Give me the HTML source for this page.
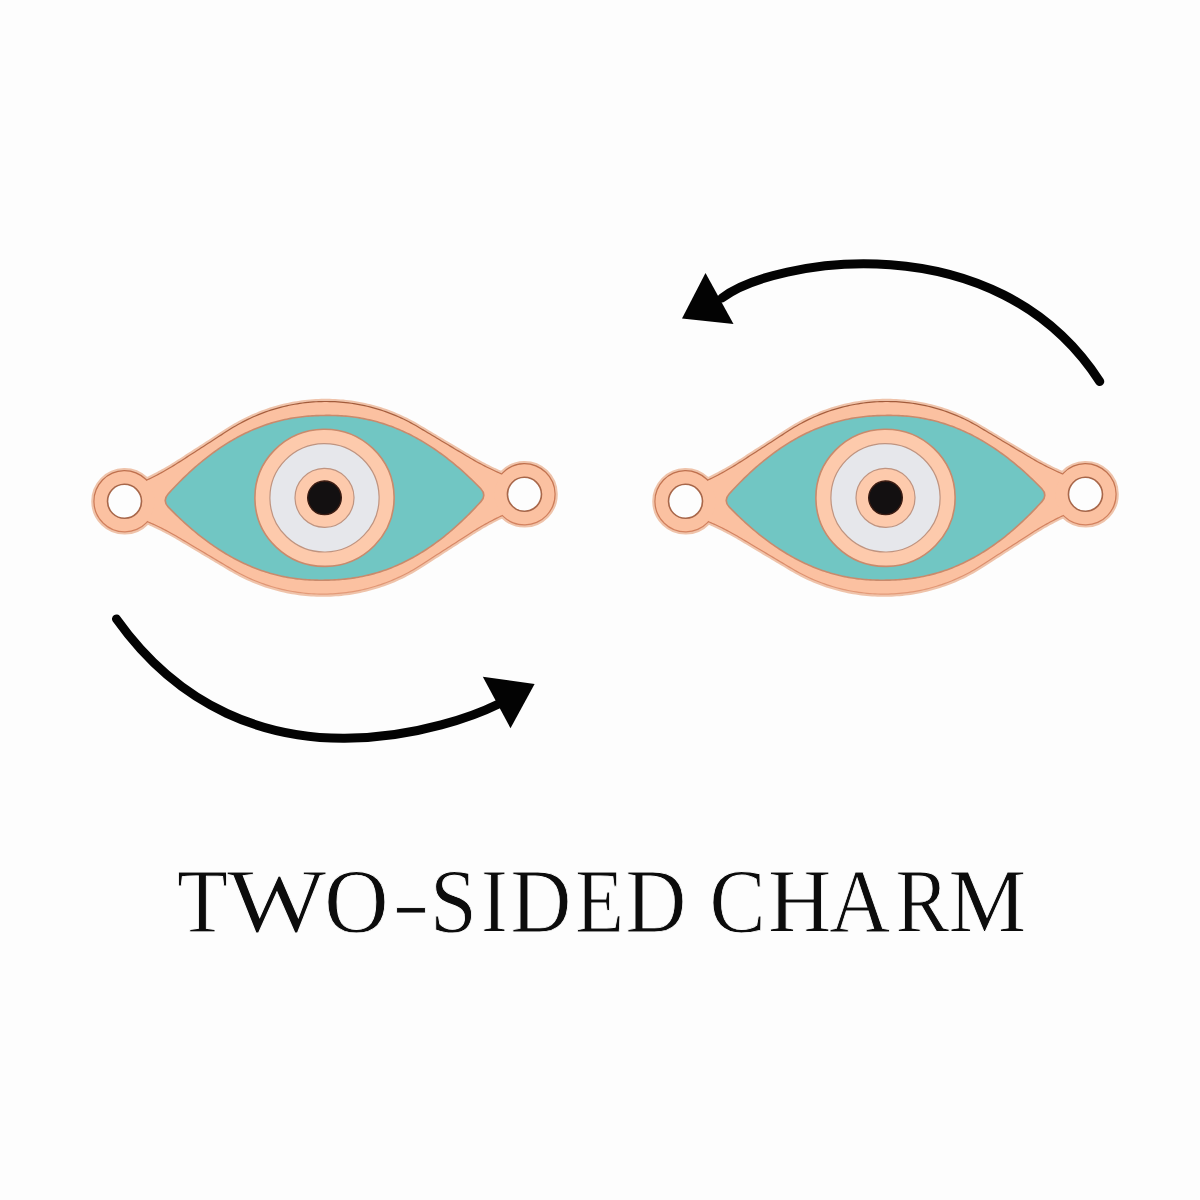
<!DOCTYPE html>
<html><head><meta charset="utf-8"><style>
html,body{margin:0;padding:0;background:#fdfdfd;}
body{width:1200px;height:1200px;overflow:hidden;position:relative;}
svg{position:absolute;left:0;top:0;}
</style></head><body>
<svg width="1200" height="1200" viewBox="0 0 1200 1200">
<defs><linearGradient id="eg" gradientUnits="userSpaceOnUse" x1="0" y1="-100" x2="0" y2="100">
<stop offset="0" stop-color="#a05a3a"/><stop offset="0.5" stop-color="#cc7a56"/><stop offset="0.75" stop-color="#d98866"/><stop offset="1" stop-color="#e49c7a"/></linearGradient></defs>
<rect width="1200" height="1200" fill="#fdfdfd"/>
<g transform="translate(324.5,497.8) rotate(-1.0)">
 <g stroke="#efc3aa" stroke-width="6.6" fill="#efc3aa">
  <path d="M-205.00,-8.98 L-204.98,-8.98 L-204.93,-9.01 L-204.84,-9.04 L-204.72,-9.09 L-204.56,-9.15 L-204.36,-9.23 L-204.13,-9.32 L-203.87,-9.43 L-203.57,-9.55 L-203.23,-9.68 L-202.86,-9.83 L-202.45,-10.00 L-202.01,-10.17 L-201.54,-10.36 L-201.03,-10.57 L-200.48,-10.78 L-199.90,-11.02 L-199.29,-11.26 L-198.64,-11.52 L-197.96,-11.79 L-197.24,-12.08 L-196.49,-12.38 L-195.70,-12.70 L-194.88,-13.02 L-194.03,-13.37 L-193.14,-13.72 L-192.22,-14.09 L-191.27,-14.47 L-190.29,-14.86 L-189.27,-15.27 L-188.21,-15.69 L-187.13,-16.12 L-186.01,-16.57 L-184.87,-17.03 L-183.68,-17.51 L-182.47,-18.01 L-181.23,-18.52 L-179.95,-19.07 L-178.65,-19.63 L-177.31,-20.22 L-175.94,-20.83 L-174.54,-21.46 L-173.12,-22.12 L-171.66,-22.80 L-170.17,-23.51 L-168.65,-24.25 L-167.11,-25.02 L-165.53,-25.81 L-163.93,-26.63 L-162.30,-27.48 L-160.63,-28.36 L-158.95,-29.26 L-157.23,-30.21 L-155.49,-31.18 L-153.72,-32.18 L-151.92,-33.22 L-150.10,-34.29 L-148.25,-35.39 L-146.38,-36.53 L-144.48,-37.70 L-142.56,-38.89 L-140.61,-40.10 L-138.63,-41.32 L-136.64,-42.56 L-134.62,-43.81 L-132.57,-45.08 L-130.51,-46.36 L-128.42,-47.66 L-126.30,-48.97 L-124.17,-50.29 L-122.02,-51.63 L-119.84,-52.98 L-117.64,-54.34 L-115.43,-55.71 L-113.19,-57.10 L-110.93,-58.50 L-108.66,-59.91 L-106.36,-61.33 L-104.05,-62.76 L-101.72,-64.21 L-99.37,-65.67 L-97.01,-67.13 L-94.63,-68.61 L-92.23,-70.08 L-89.81,-71.51 L-87.38,-72.89 L-84.94,-74.24 L-82.48,-75.54 L-80.00,-76.80 L-77.52,-78.02 L-75.01,-79.20 L-72.50,-80.34 L-69.97,-81.44 L-67.43,-82.50 L-64.88,-83.51 L-62.32,-84.49 L-59.75,-85.42 L-57.17,-86.31 L-54.57,-87.17 L-51.97,-87.98 L-49.36,-88.75 L-46.74,-89.48 L-44.11,-90.17 L-41.48,-90.82 L-38.84,-91.43 L-36.19,-92.00 L-33.53,-92.53 L-30.87,-93.01 L-28.20,-93.46 L-25.53,-93.87 L-22.86,-94.23 L-20.18,-94.56 L-17.49,-94.84 L-14.81,-95.09 L-12.12,-95.29 L-9.43,-95.45 L-6.74,-95.57 L-4.04,-95.65 L-1.35,-95.69 L1.35,-95.69 L4.04,-95.65 L6.74,-95.57 L9.43,-95.45 L12.12,-95.29 L14.81,-95.09 L17.49,-94.84 L20.18,-94.56 L22.86,-94.23 L25.53,-93.87 L28.20,-93.46 L30.87,-93.01 L33.53,-92.53 L36.19,-92.00 L38.84,-91.43 L41.48,-90.82 L44.11,-90.17 L46.74,-89.48 L49.36,-88.75 L51.97,-87.98 L54.57,-87.17 L57.17,-86.31 L59.75,-85.42 L62.32,-84.49 L64.88,-83.51 L67.43,-82.50 L69.97,-81.44 L72.50,-80.34 L75.01,-79.20 L77.52,-78.02 L80.00,-76.80 L82.48,-75.54 L84.94,-74.24 L87.38,-72.89 L89.81,-71.51 L92.23,-70.08 L94.63,-68.61 L97.01,-67.13 L99.37,-65.67 L101.72,-64.21 L104.05,-62.76 L106.36,-61.33 L108.66,-59.91 L110.93,-58.50 L113.19,-57.10 L115.43,-55.71 L117.64,-54.34 L119.84,-52.98 L122.02,-51.63 L124.17,-50.29 L126.30,-48.97 L128.42,-47.66 L130.51,-46.36 L132.57,-45.08 L134.62,-43.81 L136.64,-42.56 L138.63,-41.32 L140.61,-40.10 L142.56,-38.89 L144.48,-37.70 L146.38,-36.53 L148.25,-35.39 L150.10,-34.29 L151.92,-33.22 L153.72,-32.18 L155.49,-31.18 L157.23,-30.21 L158.95,-29.26 L160.63,-28.36 L162.30,-27.48 L163.93,-26.63 L165.53,-25.81 L167.11,-25.02 L168.65,-24.25 L170.17,-23.51 L171.66,-22.80 L173.12,-22.12 L174.54,-21.46 L175.94,-20.83 L177.31,-20.22 L178.65,-19.63 L179.95,-19.07 L181.23,-18.52 L182.47,-18.01 L183.68,-17.51 L184.87,-17.03 L186.01,-16.57 L187.13,-16.12 L188.21,-15.69 L189.27,-15.27 L190.29,-14.86 L191.27,-14.47 L192.22,-14.09 L193.14,-13.72 L194.03,-13.37 L194.88,-13.02 L195.70,-12.70 L196.49,-12.38 L197.24,-12.08 L197.96,-11.79 L198.64,-11.52 L199.29,-11.26 L199.90,-11.02 L200.48,-10.78 L201.03,-10.57 L201.54,-10.36 L202.01,-10.17 L202.45,-10.00 L202.86,-9.83 L203.23,-9.68 L203.57,-9.55 L203.87,-9.43 L204.13,-9.32 L204.36,-9.23 L204.56,-9.15 L204.72,-9.09 L204.84,-9.04 L204.93,-9.01 L204.98,-8.98 L205.00,-8.98 L205.00,8.98 L204.98,8.98 L204.93,9.01 L204.84,9.04 L204.72,9.09 L204.56,9.15 L204.36,9.23 L204.13,9.32 L203.87,9.43 L203.57,9.55 L203.23,9.68 L202.86,9.83 L202.45,10.00 L202.01,10.17 L201.54,10.36 L201.03,10.57 L200.48,10.78 L199.90,11.02 L199.29,11.26 L198.64,11.52 L197.96,11.79 L197.24,12.08 L196.49,12.38 L195.70,12.70 L194.88,13.02 L194.03,13.37 L193.14,13.72 L192.22,14.09 L191.27,14.47 L190.29,14.86 L189.27,15.27 L188.21,15.69 L187.13,16.12 L186.01,16.57 L184.87,17.03 L183.68,17.51 L182.47,18.01 L181.23,18.52 L179.95,19.07 L178.65,19.63 L177.31,20.22 L175.94,20.83 L174.54,21.46 L173.12,22.12 L171.66,22.80 L170.17,23.51 L168.65,24.25 L167.11,25.02 L165.53,25.81 L163.93,26.63 L162.30,27.48 L160.63,28.36 L158.95,29.26 L157.23,30.21 L155.49,31.18 L153.72,32.18 L151.92,33.22 L150.10,34.29 L148.25,35.39 L146.38,36.53 L144.48,37.70 L142.56,38.89 L140.61,40.10 L138.63,41.32 L136.64,42.56 L134.62,43.81 L132.57,45.08 L130.51,46.36 L128.42,47.66 L126.30,48.97 L124.17,50.29 L122.02,51.63 L119.84,52.98 L117.64,54.34 L115.43,55.71 L113.19,57.10 L110.93,58.50 L108.66,59.91 L106.36,61.33 L104.05,62.76 L101.72,64.21 L99.37,65.67 L97.01,67.13 L94.63,68.61 L92.23,70.08 L89.81,71.51 L87.38,72.89 L84.94,74.24 L82.48,75.54 L80.00,76.80 L77.52,78.02 L75.01,79.20 L72.50,80.34 L69.97,81.44 L67.43,82.50 L64.88,83.51 L62.32,84.49 L59.75,85.42 L57.17,86.31 L54.57,87.17 L51.97,87.98 L49.36,88.75 L46.74,89.48 L44.11,90.17 L41.48,90.82 L38.84,91.43 L36.19,92.00 L33.53,92.53 L30.87,93.01 L28.20,93.46 L25.53,93.87 L22.86,94.23 L20.18,94.56 L17.49,94.84 L14.81,95.09 L12.12,95.29 L9.43,95.45 L6.74,95.57 L4.04,95.65 L1.35,95.69 L-1.35,95.69 L-4.04,95.65 L-6.74,95.57 L-9.43,95.45 L-12.12,95.29 L-14.81,95.09 L-17.49,94.84 L-20.18,94.56 L-22.86,94.23 L-25.53,93.87 L-28.20,93.46 L-30.87,93.01 L-33.53,92.53 L-36.19,92.00 L-38.84,91.43 L-41.48,90.82 L-44.11,90.17 L-46.74,89.48 L-49.36,88.75 L-51.97,87.98 L-54.57,87.17 L-57.17,86.31 L-59.75,85.42 L-62.32,84.49 L-64.88,83.51 L-67.43,82.50 L-69.97,81.44 L-72.50,80.34 L-75.01,79.20 L-77.52,78.02 L-80.00,76.80 L-82.48,75.54 L-84.94,74.24 L-87.38,72.89 L-89.81,71.51 L-92.23,70.08 L-94.63,68.61 L-97.01,67.13 L-99.37,65.67 L-101.72,64.21 L-104.05,62.76 L-106.36,61.33 L-108.66,59.91 L-110.93,58.50 L-113.19,57.10 L-115.43,55.71 L-117.64,54.34 L-119.84,52.98 L-122.02,51.63 L-124.17,50.29 L-126.30,48.97 L-128.42,47.66 L-130.51,46.36 L-132.57,45.08 L-134.62,43.81 L-136.64,42.56 L-138.63,41.32 L-140.61,40.10 L-142.56,38.89 L-144.48,37.70 L-146.38,36.53 L-148.25,35.39 L-150.10,34.29 L-151.92,33.22 L-153.72,32.18 L-155.49,31.18 L-157.23,30.21 L-158.95,29.26 L-160.63,28.36 L-162.30,27.48 L-163.93,26.63 L-165.53,25.81 L-167.11,25.02 L-168.65,24.25 L-170.17,23.51 L-171.66,22.80 L-173.12,22.12 L-174.54,21.46 L-175.94,20.83 L-177.31,20.22 L-178.65,19.63 L-179.95,19.07 L-181.23,18.52 L-182.47,18.01 L-183.68,17.51 L-184.87,17.03 L-186.01,16.57 L-187.13,16.12 L-188.21,15.69 L-189.27,15.27 L-190.29,14.86 L-191.27,14.47 L-192.22,14.09 L-193.14,13.72 L-194.03,13.37 L-194.88,13.02 L-195.70,12.70 L-196.49,12.38 L-197.24,12.08 L-197.96,11.79 L-198.64,11.52 L-199.29,11.26 L-199.90,11.02 L-200.48,10.78 L-201.03,10.57 L-201.54,10.36 L-202.01,10.17 L-202.45,10.00 L-202.86,9.83 L-203.23,9.68 L-203.57,9.55 L-203.87,9.43 L-204.13,9.32 L-204.36,9.23 L-204.56,9.15 L-204.72,9.09 L-204.84,9.04 L-204.93,9.01 L-204.98,8.98 L-205.00,8.98 Z"/><circle cx="-200" cy="0" r="30"/><circle cx="200" cy="0" r="30"/>
 </g>
 <g stroke="url(#eg)" stroke-width="2.4" fill="url(#eg)">
  <path d="M-205.00,-8.98 L-204.98,-8.98 L-204.93,-9.01 L-204.84,-9.04 L-204.72,-9.09 L-204.56,-9.15 L-204.36,-9.23 L-204.13,-9.32 L-203.87,-9.43 L-203.57,-9.55 L-203.23,-9.68 L-202.86,-9.83 L-202.45,-10.00 L-202.01,-10.17 L-201.54,-10.36 L-201.03,-10.57 L-200.48,-10.78 L-199.90,-11.02 L-199.29,-11.26 L-198.64,-11.52 L-197.96,-11.79 L-197.24,-12.08 L-196.49,-12.38 L-195.70,-12.70 L-194.88,-13.02 L-194.03,-13.37 L-193.14,-13.72 L-192.22,-14.09 L-191.27,-14.47 L-190.29,-14.86 L-189.27,-15.27 L-188.21,-15.69 L-187.13,-16.12 L-186.01,-16.57 L-184.87,-17.03 L-183.68,-17.51 L-182.47,-18.01 L-181.23,-18.52 L-179.95,-19.07 L-178.65,-19.63 L-177.31,-20.22 L-175.94,-20.83 L-174.54,-21.46 L-173.12,-22.12 L-171.66,-22.80 L-170.17,-23.51 L-168.65,-24.25 L-167.11,-25.02 L-165.53,-25.81 L-163.93,-26.63 L-162.30,-27.48 L-160.63,-28.36 L-158.95,-29.26 L-157.23,-30.21 L-155.49,-31.18 L-153.72,-32.18 L-151.92,-33.22 L-150.10,-34.29 L-148.25,-35.39 L-146.38,-36.53 L-144.48,-37.70 L-142.56,-38.89 L-140.61,-40.10 L-138.63,-41.32 L-136.64,-42.56 L-134.62,-43.81 L-132.57,-45.08 L-130.51,-46.36 L-128.42,-47.66 L-126.30,-48.97 L-124.17,-50.29 L-122.02,-51.63 L-119.84,-52.98 L-117.64,-54.34 L-115.43,-55.71 L-113.19,-57.10 L-110.93,-58.50 L-108.66,-59.91 L-106.36,-61.33 L-104.05,-62.76 L-101.72,-64.21 L-99.37,-65.67 L-97.01,-67.13 L-94.63,-68.61 L-92.23,-70.08 L-89.81,-71.51 L-87.38,-72.89 L-84.94,-74.24 L-82.48,-75.54 L-80.00,-76.80 L-77.52,-78.02 L-75.01,-79.20 L-72.50,-80.34 L-69.97,-81.44 L-67.43,-82.50 L-64.88,-83.51 L-62.32,-84.49 L-59.75,-85.42 L-57.17,-86.31 L-54.57,-87.17 L-51.97,-87.98 L-49.36,-88.75 L-46.74,-89.48 L-44.11,-90.17 L-41.48,-90.82 L-38.84,-91.43 L-36.19,-92.00 L-33.53,-92.53 L-30.87,-93.01 L-28.20,-93.46 L-25.53,-93.87 L-22.86,-94.23 L-20.18,-94.56 L-17.49,-94.84 L-14.81,-95.09 L-12.12,-95.29 L-9.43,-95.45 L-6.74,-95.57 L-4.04,-95.65 L-1.35,-95.69 L1.35,-95.69 L4.04,-95.65 L6.74,-95.57 L9.43,-95.45 L12.12,-95.29 L14.81,-95.09 L17.49,-94.84 L20.18,-94.56 L22.86,-94.23 L25.53,-93.87 L28.20,-93.46 L30.87,-93.01 L33.53,-92.53 L36.19,-92.00 L38.84,-91.43 L41.48,-90.82 L44.11,-90.17 L46.74,-89.48 L49.36,-88.75 L51.97,-87.98 L54.57,-87.17 L57.17,-86.31 L59.75,-85.42 L62.32,-84.49 L64.88,-83.51 L67.43,-82.50 L69.97,-81.44 L72.50,-80.34 L75.01,-79.20 L77.52,-78.02 L80.00,-76.80 L82.48,-75.54 L84.94,-74.24 L87.38,-72.89 L89.81,-71.51 L92.23,-70.08 L94.63,-68.61 L97.01,-67.13 L99.37,-65.67 L101.72,-64.21 L104.05,-62.76 L106.36,-61.33 L108.66,-59.91 L110.93,-58.50 L113.19,-57.10 L115.43,-55.71 L117.64,-54.34 L119.84,-52.98 L122.02,-51.63 L124.17,-50.29 L126.30,-48.97 L128.42,-47.66 L130.51,-46.36 L132.57,-45.08 L134.62,-43.81 L136.64,-42.56 L138.63,-41.32 L140.61,-40.10 L142.56,-38.89 L144.48,-37.70 L146.38,-36.53 L148.25,-35.39 L150.10,-34.29 L151.92,-33.22 L153.72,-32.18 L155.49,-31.18 L157.23,-30.21 L158.95,-29.26 L160.63,-28.36 L162.30,-27.48 L163.93,-26.63 L165.53,-25.81 L167.11,-25.02 L168.65,-24.25 L170.17,-23.51 L171.66,-22.80 L173.12,-22.12 L174.54,-21.46 L175.94,-20.83 L177.31,-20.22 L178.65,-19.63 L179.95,-19.07 L181.23,-18.52 L182.47,-18.01 L183.68,-17.51 L184.87,-17.03 L186.01,-16.57 L187.13,-16.12 L188.21,-15.69 L189.27,-15.27 L190.29,-14.86 L191.27,-14.47 L192.22,-14.09 L193.14,-13.72 L194.03,-13.37 L194.88,-13.02 L195.70,-12.70 L196.49,-12.38 L197.24,-12.08 L197.96,-11.79 L198.64,-11.52 L199.29,-11.26 L199.90,-11.02 L200.48,-10.78 L201.03,-10.57 L201.54,-10.36 L202.01,-10.17 L202.45,-10.00 L202.86,-9.83 L203.23,-9.68 L203.57,-9.55 L203.87,-9.43 L204.13,-9.32 L204.36,-9.23 L204.56,-9.15 L204.72,-9.09 L204.84,-9.04 L204.93,-9.01 L204.98,-8.98 L205.00,-8.98 L205.00,8.98 L204.98,8.98 L204.93,9.01 L204.84,9.04 L204.72,9.09 L204.56,9.15 L204.36,9.23 L204.13,9.32 L203.87,9.43 L203.57,9.55 L203.23,9.68 L202.86,9.83 L202.45,10.00 L202.01,10.17 L201.54,10.36 L201.03,10.57 L200.48,10.78 L199.90,11.02 L199.29,11.26 L198.64,11.52 L197.96,11.79 L197.24,12.08 L196.49,12.38 L195.70,12.70 L194.88,13.02 L194.03,13.37 L193.14,13.72 L192.22,14.09 L191.27,14.47 L190.29,14.86 L189.27,15.27 L188.21,15.69 L187.13,16.12 L186.01,16.57 L184.87,17.03 L183.68,17.51 L182.47,18.01 L181.23,18.52 L179.95,19.07 L178.65,19.63 L177.31,20.22 L175.94,20.83 L174.54,21.46 L173.12,22.12 L171.66,22.80 L170.17,23.51 L168.65,24.25 L167.11,25.02 L165.53,25.81 L163.93,26.63 L162.30,27.48 L160.63,28.36 L158.95,29.26 L157.23,30.21 L155.49,31.18 L153.72,32.18 L151.92,33.22 L150.10,34.29 L148.25,35.39 L146.38,36.53 L144.48,37.70 L142.56,38.89 L140.61,40.10 L138.63,41.32 L136.64,42.56 L134.62,43.81 L132.57,45.08 L130.51,46.36 L128.42,47.66 L126.30,48.97 L124.17,50.29 L122.02,51.63 L119.84,52.98 L117.64,54.34 L115.43,55.71 L113.19,57.10 L110.93,58.50 L108.66,59.91 L106.36,61.33 L104.05,62.76 L101.72,64.21 L99.37,65.67 L97.01,67.13 L94.63,68.61 L92.23,70.08 L89.81,71.51 L87.38,72.89 L84.94,74.24 L82.48,75.54 L80.00,76.80 L77.52,78.02 L75.01,79.20 L72.50,80.34 L69.97,81.44 L67.43,82.50 L64.88,83.51 L62.32,84.49 L59.75,85.42 L57.17,86.31 L54.57,87.17 L51.97,87.98 L49.36,88.75 L46.74,89.48 L44.11,90.17 L41.48,90.82 L38.84,91.43 L36.19,92.00 L33.53,92.53 L30.87,93.01 L28.20,93.46 L25.53,93.87 L22.86,94.23 L20.18,94.56 L17.49,94.84 L14.81,95.09 L12.12,95.29 L9.43,95.45 L6.74,95.57 L4.04,95.65 L1.35,95.69 L-1.35,95.69 L-4.04,95.65 L-6.74,95.57 L-9.43,95.45 L-12.12,95.29 L-14.81,95.09 L-17.49,94.84 L-20.18,94.56 L-22.86,94.23 L-25.53,93.87 L-28.20,93.46 L-30.87,93.01 L-33.53,92.53 L-36.19,92.00 L-38.84,91.43 L-41.48,90.82 L-44.11,90.17 L-46.74,89.48 L-49.36,88.75 L-51.97,87.98 L-54.57,87.17 L-57.17,86.31 L-59.75,85.42 L-62.32,84.49 L-64.88,83.51 L-67.43,82.50 L-69.97,81.44 L-72.50,80.34 L-75.01,79.20 L-77.52,78.02 L-80.00,76.80 L-82.48,75.54 L-84.94,74.24 L-87.38,72.89 L-89.81,71.51 L-92.23,70.08 L-94.63,68.61 L-97.01,67.13 L-99.37,65.67 L-101.72,64.21 L-104.05,62.76 L-106.36,61.33 L-108.66,59.91 L-110.93,58.50 L-113.19,57.10 L-115.43,55.71 L-117.64,54.34 L-119.84,52.98 L-122.02,51.63 L-124.17,50.29 L-126.30,48.97 L-128.42,47.66 L-130.51,46.36 L-132.57,45.08 L-134.62,43.81 L-136.64,42.56 L-138.63,41.32 L-140.61,40.10 L-142.56,38.89 L-144.48,37.70 L-146.38,36.53 L-148.25,35.39 L-150.10,34.29 L-151.92,33.22 L-153.72,32.18 L-155.49,31.18 L-157.23,30.21 L-158.95,29.26 L-160.63,28.36 L-162.30,27.48 L-163.93,26.63 L-165.53,25.81 L-167.11,25.02 L-168.65,24.25 L-170.17,23.51 L-171.66,22.80 L-173.12,22.12 L-174.54,21.46 L-175.94,20.83 L-177.31,20.22 L-178.65,19.63 L-179.95,19.07 L-181.23,18.52 L-182.47,18.01 L-183.68,17.51 L-184.87,17.03 L-186.01,16.57 L-187.13,16.12 L-188.21,15.69 L-189.27,15.27 L-190.29,14.86 L-191.27,14.47 L-192.22,14.09 L-193.14,13.72 L-194.03,13.37 L-194.88,13.02 L-195.70,12.70 L-196.49,12.38 L-197.24,12.08 L-197.96,11.79 L-198.64,11.52 L-199.29,11.26 L-199.90,11.02 L-200.48,10.78 L-201.03,10.57 L-201.54,10.36 L-202.01,10.17 L-202.45,10.00 L-202.86,9.83 L-203.23,9.68 L-203.57,9.55 L-203.87,9.43 L-204.13,9.32 L-204.36,9.23 L-204.56,9.15 L-204.72,9.09 L-204.84,9.04 L-204.93,9.01 L-204.98,8.98 L-205.00,8.98 Z"/><circle cx="-200" cy="0" r="30"/><circle cx="200" cy="0" r="30"/>
 </g>
 <g fill="#fbc1a1">
  <path d="M-205.00,-8.98 L-204.98,-8.98 L-204.93,-9.01 L-204.84,-9.04 L-204.72,-9.09 L-204.56,-9.15 L-204.36,-9.23 L-204.13,-9.32 L-203.87,-9.43 L-203.57,-9.55 L-203.23,-9.68 L-202.86,-9.83 L-202.45,-10.00 L-202.01,-10.17 L-201.54,-10.36 L-201.03,-10.57 L-200.48,-10.78 L-199.90,-11.02 L-199.29,-11.26 L-198.64,-11.52 L-197.96,-11.79 L-197.24,-12.08 L-196.49,-12.38 L-195.70,-12.70 L-194.88,-13.02 L-194.03,-13.37 L-193.14,-13.72 L-192.22,-14.09 L-191.27,-14.47 L-190.29,-14.86 L-189.27,-15.27 L-188.21,-15.69 L-187.13,-16.12 L-186.01,-16.57 L-184.87,-17.03 L-183.68,-17.51 L-182.47,-18.01 L-181.23,-18.52 L-179.95,-19.07 L-178.65,-19.63 L-177.31,-20.22 L-175.94,-20.83 L-174.54,-21.46 L-173.12,-22.12 L-171.66,-22.80 L-170.17,-23.51 L-168.65,-24.25 L-167.11,-25.02 L-165.53,-25.81 L-163.93,-26.63 L-162.30,-27.48 L-160.63,-28.36 L-158.95,-29.26 L-157.23,-30.21 L-155.49,-31.18 L-153.72,-32.18 L-151.92,-33.22 L-150.10,-34.29 L-148.25,-35.39 L-146.38,-36.53 L-144.48,-37.70 L-142.56,-38.89 L-140.61,-40.10 L-138.63,-41.32 L-136.64,-42.56 L-134.62,-43.81 L-132.57,-45.08 L-130.51,-46.36 L-128.42,-47.66 L-126.30,-48.97 L-124.17,-50.29 L-122.02,-51.63 L-119.84,-52.98 L-117.64,-54.34 L-115.43,-55.71 L-113.19,-57.10 L-110.93,-58.50 L-108.66,-59.91 L-106.36,-61.33 L-104.05,-62.76 L-101.72,-64.21 L-99.37,-65.67 L-97.01,-67.13 L-94.63,-68.61 L-92.23,-70.08 L-89.81,-71.51 L-87.38,-72.89 L-84.94,-74.24 L-82.48,-75.54 L-80.00,-76.80 L-77.52,-78.02 L-75.01,-79.20 L-72.50,-80.34 L-69.97,-81.44 L-67.43,-82.50 L-64.88,-83.51 L-62.32,-84.49 L-59.75,-85.42 L-57.17,-86.31 L-54.57,-87.17 L-51.97,-87.98 L-49.36,-88.75 L-46.74,-89.48 L-44.11,-90.17 L-41.48,-90.82 L-38.84,-91.43 L-36.19,-92.00 L-33.53,-92.53 L-30.87,-93.01 L-28.20,-93.46 L-25.53,-93.87 L-22.86,-94.23 L-20.18,-94.56 L-17.49,-94.84 L-14.81,-95.09 L-12.12,-95.29 L-9.43,-95.45 L-6.74,-95.57 L-4.04,-95.65 L-1.35,-95.69 L1.35,-95.69 L4.04,-95.65 L6.74,-95.57 L9.43,-95.45 L12.12,-95.29 L14.81,-95.09 L17.49,-94.84 L20.18,-94.56 L22.86,-94.23 L25.53,-93.87 L28.20,-93.46 L30.87,-93.01 L33.53,-92.53 L36.19,-92.00 L38.84,-91.43 L41.48,-90.82 L44.11,-90.17 L46.74,-89.48 L49.36,-88.75 L51.97,-87.98 L54.57,-87.17 L57.17,-86.31 L59.75,-85.42 L62.32,-84.49 L64.88,-83.51 L67.43,-82.50 L69.97,-81.44 L72.50,-80.34 L75.01,-79.20 L77.52,-78.02 L80.00,-76.80 L82.48,-75.54 L84.94,-74.24 L87.38,-72.89 L89.81,-71.51 L92.23,-70.08 L94.63,-68.61 L97.01,-67.13 L99.37,-65.67 L101.72,-64.21 L104.05,-62.76 L106.36,-61.33 L108.66,-59.91 L110.93,-58.50 L113.19,-57.10 L115.43,-55.71 L117.64,-54.34 L119.84,-52.98 L122.02,-51.63 L124.17,-50.29 L126.30,-48.97 L128.42,-47.66 L130.51,-46.36 L132.57,-45.08 L134.62,-43.81 L136.64,-42.56 L138.63,-41.32 L140.61,-40.10 L142.56,-38.89 L144.48,-37.70 L146.38,-36.53 L148.25,-35.39 L150.10,-34.29 L151.92,-33.22 L153.72,-32.18 L155.49,-31.18 L157.23,-30.21 L158.95,-29.26 L160.63,-28.36 L162.30,-27.48 L163.93,-26.63 L165.53,-25.81 L167.11,-25.02 L168.65,-24.25 L170.17,-23.51 L171.66,-22.80 L173.12,-22.12 L174.54,-21.46 L175.94,-20.83 L177.31,-20.22 L178.65,-19.63 L179.95,-19.07 L181.23,-18.52 L182.47,-18.01 L183.68,-17.51 L184.87,-17.03 L186.01,-16.57 L187.13,-16.12 L188.21,-15.69 L189.27,-15.27 L190.29,-14.86 L191.27,-14.47 L192.22,-14.09 L193.14,-13.72 L194.03,-13.37 L194.88,-13.02 L195.70,-12.70 L196.49,-12.38 L197.24,-12.08 L197.96,-11.79 L198.64,-11.52 L199.29,-11.26 L199.90,-11.02 L200.48,-10.78 L201.03,-10.57 L201.54,-10.36 L202.01,-10.17 L202.45,-10.00 L202.86,-9.83 L203.23,-9.68 L203.57,-9.55 L203.87,-9.43 L204.13,-9.32 L204.36,-9.23 L204.56,-9.15 L204.72,-9.09 L204.84,-9.04 L204.93,-9.01 L204.98,-8.98 L205.00,-8.98 L205.00,8.98 L204.98,8.98 L204.93,9.01 L204.84,9.04 L204.72,9.09 L204.56,9.15 L204.36,9.23 L204.13,9.32 L203.87,9.43 L203.57,9.55 L203.23,9.68 L202.86,9.83 L202.45,10.00 L202.01,10.17 L201.54,10.36 L201.03,10.57 L200.48,10.78 L199.90,11.02 L199.29,11.26 L198.64,11.52 L197.96,11.79 L197.24,12.08 L196.49,12.38 L195.70,12.70 L194.88,13.02 L194.03,13.37 L193.14,13.72 L192.22,14.09 L191.27,14.47 L190.29,14.86 L189.27,15.27 L188.21,15.69 L187.13,16.12 L186.01,16.57 L184.87,17.03 L183.68,17.51 L182.47,18.01 L181.23,18.52 L179.95,19.07 L178.65,19.63 L177.31,20.22 L175.94,20.83 L174.54,21.46 L173.12,22.12 L171.66,22.80 L170.17,23.51 L168.65,24.25 L167.11,25.02 L165.53,25.81 L163.93,26.63 L162.30,27.48 L160.63,28.36 L158.95,29.26 L157.23,30.21 L155.49,31.18 L153.72,32.18 L151.92,33.22 L150.10,34.29 L148.25,35.39 L146.38,36.53 L144.48,37.70 L142.56,38.89 L140.61,40.10 L138.63,41.32 L136.64,42.56 L134.62,43.81 L132.57,45.08 L130.51,46.36 L128.42,47.66 L126.30,48.97 L124.17,50.29 L122.02,51.63 L119.84,52.98 L117.64,54.34 L115.43,55.71 L113.19,57.10 L110.93,58.50 L108.66,59.91 L106.36,61.33 L104.05,62.76 L101.72,64.21 L99.37,65.67 L97.01,67.13 L94.63,68.61 L92.23,70.08 L89.81,71.51 L87.38,72.89 L84.94,74.24 L82.48,75.54 L80.00,76.80 L77.52,78.02 L75.01,79.20 L72.50,80.34 L69.97,81.44 L67.43,82.50 L64.88,83.51 L62.32,84.49 L59.75,85.42 L57.17,86.31 L54.57,87.17 L51.97,87.98 L49.36,88.75 L46.74,89.48 L44.11,90.17 L41.48,90.82 L38.84,91.43 L36.19,92.00 L33.53,92.53 L30.87,93.01 L28.20,93.46 L25.53,93.87 L22.86,94.23 L20.18,94.56 L17.49,94.84 L14.81,95.09 L12.12,95.29 L9.43,95.45 L6.74,95.57 L4.04,95.65 L1.35,95.69 L-1.35,95.69 L-4.04,95.65 L-6.74,95.57 L-9.43,95.45 L-12.12,95.29 L-14.81,95.09 L-17.49,94.84 L-20.18,94.56 L-22.86,94.23 L-25.53,93.87 L-28.20,93.46 L-30.87,93.01 L-33.53,92.53 L-36.19,92.00 L-38.84,91.43 L-41.48,90.82 L-44.11,90.17 L-46.74,89.48 L-49.36,88.75 L-51.97,87.98 L-54.57,87.17 L-57.17,86.31 L-59.75,85.42 L-62.32,84.49 L-64.88,83.51 L-67.43,82.50 L-69.97,81.44 L-72.50,80.34 L-75.01,79.20 L-77.52,78.02 L-80.00,76.80 L-82.48,75.54 L-84.94,74.24 L-87.38,72.89 L-89.81,71.51 L-92.23,70.08 L-94.63,68.61 L-97.01,67.13 L-99.37,65.67 L-101.72,64.21 L-104.05,62.76 L-106.36,61.33 L-108.66,59.91 L-110.93,58.50 L-113.19,57.10 L-115.43,55.71 L-117.64,54.34 L-119.84,52.98 L-122.02,51.63 L-124.17,50.29 L-126.30,48.97 L-128.42,47.66 L-130.51,46.36 L-132.57,45.08 L-134.62,43.81 L-136.64,42.56 L-138.63,41.32 L-140.61,40.10 L-142.56,38.89 L-144.48,37.70 L-146.38,36.53 L-148.25,35.39 L-150.10,34.29 L-151.92,33.22 L-153.72,32.18 L-155.49,31.18 L-157.23,30.21 L-158.95,29.26 L-160.63,28.36 L-162.30,27.48 L-163.93,26.63 L-165.53,25.81 L-167.11,25.02 L-168.65,24.25 L-170.17,23.51 L-171.66,22.80 L-173.12,22.12 L-174.54,21.46 L-175.94,20.83 L-177.31,20.22 L-178.65,19.63 L-179.95,19.07 L-181.23,18.52 L-182.47,18.01 L-183.68,17.51 L-184.87,17.03 L-186.01,16.57 L-187.13,16.12 L-188.21,15.69 L-189.27,15.27 L-190.29,14.86 L-191.27,14.47 L-192.22,14.09 L-193.14,13.72 L-194.03,13.37 L-194.88,13.02 L-195.70,12.70 L-196.49,12.38 L-197.24,12.08 L-197.96,11.79 L-198.64,11.52 L-199.29,11.26 L-199.90,11.02 L-200.48,10.78 L-201.03,10.57 L-201.54,10.36 L-202.01,10.17 L-202.45,10.00 L-202.86,9.83 L-203.23,9.68 L-203.57,9.55 L-203.87,9.43 L-204.13,9.32 L-204.36,9.23 L-204.56,9.15 L-204.72,9.09 L-204.84,9.04 L-204.93,9.01 L-204.98,8.98 L-205.00,8.98 Z"/><circle cx="-200" cy="0" r="30"/><circle cx="200" cy="0" r="30"/>
 </g>
 <circle cx="-200" cy="0" r="17" fill="#fdfdfd" stroke="#a8674a" stroke-width="1.6"/>
 <circle cx="200" cy="0" r="17" fill="#fdfdfd" stroke="#a8674a" stroke-width="1.6"/>
 <path d="M-156.30,6.55 Q-162.30,0 -156.30,-6.55 L-156.30,-6.55 L-154.33,-8.63 L-152.37,-10.68 L-150.40,-12.70 L-148.44,-14.69 L-146.47,-16.64 L-144.50,-18.57 L-142.54,-20.46 L-140.57,-22.32 L-138.61,-24.16 L-136.64,-25.96 L-134.67,-27.73 L-132.71,-29.46 L-130.74,-31.17 L-128.78,-32.85 L-126.81,-34.50 L-124.84,-36.12 L-122.88,-37.70 L-120.91,-39.26 L-118.95,-40.79 L-116.98,-42.28 L-115.01,-43.75 L-113.05,-45.18 L-111.08,-46.59 L-109.12,-47.97 L-107.15,-49.32 L-105.18,-50.64 L-103.22,-51.93 L-101.25,-53.19 L-99.28,-54.42 L-97.32,-55.62 L-95.35,-56.79 L-93.39,-57.94 L-91.42,-59.06 L-89.45,-60.14 L-87.49,-61.20 L-85.52,-62.23 L-83.56,-63.24 L-81.59,-64.21 L-79.62,-65.16 L-77.66,-66.08 L-75.69,-66.97 L-73.73,-67.84 L-71.76,-68.68 L-69.79,-69.49 L-67.83,-70.27 L-65.86,-71.03 L-63.90,-71.76 L-61.93,-72.46 L-59.96,-73.14 L-58.00,-73.79 L-56.03,-74.42 L-54.07,-75.02 L-52.10,-75.59 L-50.13,-76.14 L-48.17,-76.66 L-46.20,-77.16 L-44.24,-77.63 L-42.27,-78.08 L-40.30,-78.51 L-38.34,-78.91 L-36.37,-79.28 L-34.41,-79.64 L-32.44,-79.97 L-30.47,-80.27 L-28.51,-80.56 L-26.54,-80.82 L-24.58,-81.06 L-22.61,-81.27 L-20.64,-81.47 L-18.68,-81.64 L-16.71,-81.80 L-14.75,-81.93 L-12.78,-82.04 L-10.81,-82.14 L-8.85,-82.21 L-6.88,-82.27 L-4.92,-82.31 L-2.95,-82.34 L-0.98,-82.35 L0.98,-82.35 L2.95,-82.34 L4.92,-82.31 L6.88,-82.27 L8.85,-82.21 L10.81,-82.14 L12.78,-82.04 L14.75,-81.93 L16.71,-81.80 L18.68,-81.64 L20.64,-81.47 L22.61,-81.27 L24.58,-81.06 L26.54,-80.82 L28.51,-80.56 L30.47,-80.27 L32.44,-79.97 L34.41,-79.64 L36.37,-79.28 L38.34,-78.91 L40.30,-78.51 L42.27,-78.08 L44.24,-77.63 L46.20,-77.16 L48.17,-76.66 L50.13,-76.14 L52.10,-75.59 L54.07,-75.02 L56.03,-74.42 L58.00,-73.79 L59.96,-73.14 L61.93,-72.46 L63.90,-71.76 L65.86,-71.03 L67.83,-70.27 L69.79,-69.49 L71.76,-68.68 L73.73,-67.84 L75.69,-66.97 L77.66,-66.08 L79.62,-65.16 L81.59,-64.21 L83.56,-63.24 L85.52,-62.23 L87.49,-61.20 L89.45,-60.14 L91.42,-59.06 L93.39,-57.94 L95.35,-56.79 L97.32,-55.62 L99.28,-54.42 L101.25,-53.19 L103.22,-51.93 L105.18,-50.64 L107.15,-49.32 L109.12,-47.97 L111.08,-46.59 L113.05,-45.18 L115.01,-43.75 L116.98,-42.28 L118.95,-40.79 L120.91,-39.26 L122.88,-37.70 L124.84,-36.12 L126.81,-34.50 L128.78,-32.85 L130.74,-31.17 L132.71,-29.46 L134.67,-27.73 L136.64,-25.96 L138.61,-24.16 L140.57,-22.32 L142.54,-20.46 L144.50,-18.57 L146.47,-16.64 L148.44,-14.69 L150.40,-12.70 L152.37,-10.68 L154.33,-8.63 L156.30,-6.55 Q162.30,0 156.30,6.55 L156.30,6.55 L154.33,8.63 L152.37,10.68 L150.40,12.70 L148.44,14.69 L146.47,16.64 L144.50,18.57 L142.54,20.46 L140.57,22.32 L138.61,24.16 L136.64,25.96 L134.67,27.73 L132.71,29.46 L130.74,31.17 L128.78,32.85 L126.81,34.50 L124.84,36.12 L122.88,37.70 L120.91,39.26 L118.95,40.79 L116.98,42.28 L115.01,43.75 L113.05,45.18 L111.08,46.59 L109.12,47.97 L107.15,49.32 L105.18,50.64 L103.22,51.93 L101.25,53.19 L99.28,54.42 L97.32,55.62 L95.35,56.79 L93.39,57.94 L91.42,59.06 L89.45,60.14 L87.49,61.20 L85.52,62.23 L83.56,63.24 L81.59,64.21 L79.62,65.16 L77.66,66.08 L75.69,66.97 L73.73,67.84 L71.76,68.68 L69.79,69.49 L67.83,70.27 L65.86,71.03 L63.90,71.76 L61.93,72.46 L59.96,73.14 L58.00,73.79 L56.03,74.42 L54.07,75.02 L52.10,75.59 L50.13,76.14 L48.17,76.66 L46.20,77.16 L44.24,77.63 L42.27,78.08 L40.30,78.51 L38.34,78.91 L36.37,79.28 L34.41,79.64 L32.44,79.97 L30.47,80.27 L28.51,80.56 L26.54,80.82 L24.58,81.06 L22.61,81.27 L20.64,81.47 L18.68,81.64 L16.71,81.80 L14.75,81.93 L12.78,82.04 L10.81,82.14 L8.85,82.21 L6.88,82.27 L4.92,82.31 L2.95,82.34 L0.98,82.35 L-0.98,82.35 L-2.95,82.34 L-4.92,82.31 L-6.88,82.27 L-8.85,82.21 L-10.81,82.14 L-12.78,82.04 L-14.75,81.93 L-16.71,81.80 L-18.68,81.64 L-20.64,81.47 L-22.61,81.27 L-24.58,81.06 L-26.54,80.82 L-28.51,80.56 L-30.47,80.27 L-32.44,79.97 L-34.41,79.64 L-36.37,79.28 L-38.34,78.91 L-40.30,78.51 L-42.27,78.08 L-44.24,77.63 L-46.20,77.16 L-48.17,76.66 L-50.13,76.14 L-52.10,75.59 L-54.07,75.02 L-56.03,74.42 L-58.00,73.79 L-59.96,73.14 L-61.93,72.46 L-63.90,71.76 L-65.86,71.03 L-67.83,70.27 L-69.79,69.49 L-71.76,68.68 L-73.73,67.84 L-75.69,66.97 L-77.66,66.08 L-79.62,65.16 L-81.59,64.21 L-83.56,63.24 L-85.52,62.23 L-87.49,61.20 L-89.45,60.14 L-91.42,59.06 L-93.39,57.94 L-95.35,56.79 L-97.32,55.62 L-99.28,54.42 L-101.25,53.19 L-103.22,51.93 L-105.18,50.64 L-107.15,49.32 L-109.12,47.97 L-111.08,46.59 L-113.05,45.18 L-115.01,43.75 L-116.98,42.28 L-118.95,40.79 L-120.91,39.26 L-122.88,37.70 L-124.84,36.12 L-126.81,34.50 L-128.78,32.85 L-130.74,31.17 L-132.71,29.46 L-134.67,27.73 L-136.64,25.96 L-138.61,24.16 L-140.57,22.32 L-142.54,20.46 L-144.50,18.57 L-146.47,16.64 L-148.44,14.69 L-150.40,12.70 L-152.37,10.68 L-154.33,8.63 L-156.30,6.55 Z" fill="#71c6c3" stroke="#c98a6c" stroke-width="1.6"/>
 <ellipse rx="69.6" ry="68.6" fill="#fdcaac" stroke="#c98a6c" stroke-width="1.6"/>
 <ellipse rx="54.6" ry="54.2" fill="#e6e7eb" stroke="#bf9480" stroke-width="1.2"/>
 <circle r="29.5" fill="#fdcaac" stroke="#bf9480" stroke-width="1.2"/>
 <circle r="16.799999999999997" fill="#131011" stroke="#3c1c12" stroke-width="1.4"/>
</g>
<g transform="translate(885.5,497.8) rotate(-1.0)">
 <g stroke="#efc3aa" stroke-width="6.6" fill="#efc3aa">
  <path d="M-205.00,-8.98 L-204.98,-8.98 L-204.93,-9.01 L-204.84,-9.04 L-204.72,-9.09 L-204.56,-9.15 L-204.36,-9.23 L-204.13,-9.32 L-203.87,-9.43 L-203.57,-9.55 L-203.23,-9.68 L-202.86,-9.83 L-202.45,-10.00 L-202.01,-10.17 L-201.54,-10.36 L-201.03,-10.57 L-200.48,-10.78 L-199.90,-11.02 L-199.29,-11.26 L-198.64,-11.52 L-197.96,-11.79 L-197.24,-12.08 L-196.49,-12.38 L-195.70,-12.70 L-194.88,-13.02 L-194.03,-13.37 L-193.14,-13.72 L-192.22,-14.09 L-191.27,-14.47 L-190.29,-14.86 L-189.27,-15.27 L-188.21,-15.69 L-187.13,-16.12 L-186.01,-16.57 L-184.87,-17.03 L-183.68,-17.51 L-182.47,-18.01 L-181.23,-18.52 L-179.95,-19.07 L-178.65,-19.63 L-177.31,-20.22 L-175.94,-20.83 L-174.54,-21.46 L-173.12,-22.12 L-171.66,-22.80 L-170.17,-23.51 L-168.65,-24.25 L-167.11,-25.02 L-165.53,-25.81 L-163.93,-26.63 L-162.30,-27.48 L-160.63,-28.36 L-158.95,-29.26 L-157.23,-30.21 L-155.49,-31.18 L-153.72,-32.18 L-151.92,-33.22 L-150.10,-34.29 L-148.25,-35.39 L-146.38,-36.53 L-144.48,-37.70 L-142.56,-38.89 L-140.61,-40.10 L-138.63,-41.32 L-136.64,-42.56 L-134.62,-43.81 L-132.57,-45.08 L-130.51,-46.36 L-128.42,-47.66 L-126.30,-48.97 L-124.17,-50.29 L-122.02,-51.63 L-119.84,-52.98 L-117.64,-54.34 L-115.43,-55.71 L-113.19,-57.10 L-110.93,-58.50 L-108.66,-59.91 L-106.36,-61.33 L-104.05,-62.76 L-101.72,-64.21 L-99.37,-65.67 L-97.01,-67.13 L-94.63,-68.61 L-92.23,-70.08 L-89.81,-71.51 L-87.38,-72.89 L-84.94,-74.24 L-82.48,-75.54 L-80.00,-76.80 L-77.52,-78.02 L-75.01,-79.20 L-72.50,-80.34 L-69.97,-81.44 L-67.43,-82.50 L-64.88,-83.51 L-62.32,-84.49 L-59.75,-85.42 L-57.17,-86.31 L-54.57,-87.17 L-51.97,-87.98 L-49.36,-88.75 L-46.74,-89.48 L-44.11,-90.17 L-41.48,-90.82 L-38.84,-91.43 L-36.19,-92.00 L-33.53,-92.53 L-30.87,-93.01 L-28.20,-93.46 L-25.53,-93.87 L-22.86,-94.23 L-20.18,-94.56 L-17.49,-94.84 L-14.81,-95.09 L-12.12,-95.29 L-9.43,-95.45 L-6.74,-95.57 L-4.04,-95.65 L-1.35,-95.69 L1.35,-95.69 L4.04,-95.65 L6.74,-95.57 L9.43,-95.45 L12.12,-95.29 L14.81,-95.09 L17.49,-94.84 L20.18,-94.56 L22.86,-94.23 L25.53,-93.87 L28.20,-93.46 L30.87,-93.01 L33.53,-92.53 L36.19,-92.00 L38.84,-91.43 L41.48,-90.82 L44.11,-90.17 L46.74,-89.48 L49.36,-88.75 L51.97,-87.98 L54.57,-87.17 L57.17,-86.31 L59.75,-85.42 L62.32,-84.49 L64.88,-83.51 L67.43,-82.50 L69.97,-81.44 L72.50,-80.34 L75.01,-79.20 L77.52,-78.02 L80.00,-76.80 L82.48,-75.54 L84.94,-74.24 L87.38,-72.89 L89.81,-71.51 L92.23,-70.08 L94.63,-68.61 L97.01,-67.13 L99.37,-65.67 L101.72,-64.21 L104.05,-62.76 L106.36,-61.33 L108.66,-59.91 L110.93,-58.50 L113.19,-57.10 L115.43,-55.71 L117.64,-54.34 L119.84,-52.98 L122.02,-51.63 L124.17,-50.29 L126.30,-48.97 L128.42,-47.66 L130.51,-46.36 L132.57,-45.08 L134.62,-43.81 L136.64,-42.56 L138.63,-41.32 L140.61,-40.10 L142.56,-38.89 L144.48,-37.70 L146.38,-36.53 L148.25,-35.39 L150.10,-34.29 L151.92,-33.22 L153.72,-32.18 L155.49,-31.18 L157.23,-30.21 L158.95,-29.26 L160.63,-28.36 L162.30,-27.48 L163.93,-26.63 L165.53,-25.81 L167.11,-25.02 L168.65,-24.25 L170.17,-23.51 L171.66,-22.80 L173.12,-22.12 L174.54,-21.46 L175.94,-20.83 L177.31,-20.22 L178.65,-19.63 L179.95,-19.07 L181.23,-18.52 L182.47,-18.01 L183.68,-17.51 L184.87,-17.03 L186.01,-16.57 L187.13,-16.12 L188.21,-15.69 L189.27,-15.27 L190.29,-14.86 L191.27,-14.47 L192.22,-14.09 L193.14,-13.72 L194.03,-13.37 L194.88,-13.02 L195.70,-12.70 L196.49,-12.38 L197.24,-12.08 L197.96,-11.79 L198.64,-11.52 L199.29,-11.26 L199.90,-11.02 L200.48,-10.78 L201.03,-10.57 L201.54,-10.36 L202.01,-10.17 L202.45,-10.00 L202.86,-9.83 L203.23,-9.68 L203.57,-9.55 L203.87,-9.43 L204.13,-9.32 L204.36,-9.23 L204.56,-9.15 L204.72,-9.09 L204.84,-9.04 L204.93,-9.01 L204.98,-8.98 L205.00,-8.98 L205.00,8.98 L204.98,8.98 L204.93,9.01 L204.84,9.04 L204.72,9.09 L204.56,9.15 L204.36,9.23 L204.13,9.32 L203.87,9.43 L203.57,9.55 L203.23,9.68 L202.86,9.83 L202.45,10.00 L202.01,10.17 L201.54,10.36 L201.03,10.57 L200.48,10.78 L199.90,11.02 L199.29,11.26 L198.64,11.52 L197.96,11.79 L197.24,12.08 L196.49,12.38 L195.70,12.70 L194.88,13.02 L194.03,13.37 L193.14,13.72 L192.22,14.09 L191.27,14.47 L190.29,14.86 L189.27,15.27 L188.21,15.69 L187.13,16.12 L186.01,16.57 L184.87,17.03 L183.68,17.51 L182.47,18.01 L181.23,18.52 L179.95,19.07 L178.65,19.63 L177.31,20.22 L175.94,20.83 L174.54,21.46 L173.12,22.12 L171.66,22.80 L170.17,23.51 L168.65,24.25 L167.11,25.02 L165.53,25.81 L163.93,26.63 L162.30,27.48 L160.63,28.36 L158.95,29.26 L157.23,30.21 L155.49,31.18 L153.72,32.18 L151.92,33.22 L150.10,34.29 L148.25,35.39 L146.38,36.53 L144.48,37.70 L142.56,38.89 L140.61,40.10 L138.63,41.32 L136.64,42.56 L134.62,43.81 L132.57,45.08 L130.51,46.36 L128.42,47.66 L126.30,48.97 L124.17,50.29 L122.02,51.63 L119.84,52.98 L117.64,54.34 L115.43,55.71 L113.19,57.10 L110.93,58.50 L108.66,59.91 L106.36,61.33 L104.05,62.76 L101.72,64.21 L99.37,65.67 L97.01,67.13 L94.63,68.61 L92.23,70.08 L89.81,71.51 L87.38,72.89 L84.94,74.24 L82.48,75.54 L80.00,76.80 L77.52,78.02 L75.01,79.20 L72.50,80.34 L69.97,81.44 L67.43,82.50 L64.88,83.51 L62.32,84.49 L59.75,85.42 L57.17,86.31 L54.57,87.17 L51.97,87.98 L49.36,88.75 L46.74,89.48 L44.11,90.17 L41.48,90.82 L38.84,91.43 L36.19,92.00 L33.53,92.53 L30.87,93.01 L28.20,93.46 L25.53,93.87 L22.86,94.23 L20.18,94.56 L17.49,94.84 L14.81,95.09 L12.12,95.29 L9.43,95.45 L6.74,95.57 L4.04,95.65 L1.35,95.69 L-1.35,95.69 L-4.04,95.65 L-6.74,95.57 L-9.43,95.45 L-12.12,95.29 L-14.81,95.09 L-17.49,94.84 L-20.18,94.56 L-22.86,94.23 L-25.53,93.87 L-28.20,93.46 L-30.87,93.01 L-33.53,92.53 L-36.19,92.00 L-38.84,91.43 L-41.48,90.82 L-44.11,90.17 L-46.74,89.48 L-49.36,88.75 L-51.97,87.98 L-54.57,87.17 L-57.17,86.31 L-59.75,85.42 L-62.32,84.49 L-64.88,83.51 L-67.43,82.50 L-69.97,81.44 L-72.50,80.34 L-75.01,79.20 L-77.52,78.02 L-80.00,76.80 L-82.48,75.54 L-84.94,74.24 L-87.38,72.89 L-89.81,71.51 L-92.23,70.08 L-94.63,68.61 L-97.01,67.13 L-99.37,65.67 L-101.72,64.21 L-104.05,62.76 L-106.36,61.33 L-108.66,59.91 L-110.93,58.50 L-113.19,57.10 L-115.43,55.71 L-117.64,54.34 L-119.84,52.98 L-122.02,51.63 L-124.17,50.29 L-126.30,48.97 L-128.42,47.66 L-130.51,46.36 L-132.57,45.08 L-134.62,43.81 L-136.64,42.56 L-138.63,41.32 L-140.61,40.10 L-142.56,38.89 L-144.48,37.70 L-146.38,36.53 L-148.25,35.39 L-150.10,34.29 L-151.92,33.22 L-153.72,32.18 L-155.49,31.18 L-157.23,30.21 L-158.95,29.26 L-160.63,28.36 L-162.30,27.48 L-163.93,26.63 L-165.53,25.81 L-167.11,25.02 L-168.65,24.25 L-170.17,23.51 L-171.66,22.80 L-173.12,22.12 L-174.54,21.46 L-175.94,20.83 L-177.31,20.22 L-178.65,19.63 L-179.95,19.07 L-181.23,18.52 L-182.47,18.01 L-183.68,17.51 L-184.87,17.03 L-186.01,16.57 L-187.13,16.12 L-188.21,15.69 L-189.27,15.27 L-190.29,14.86 L-191.27,14.47 L-192.22,14.09 L-193.14,13.72 L-194.03,13.37 L-194.88,13.02 L-195.70,12.70 L-196.49,12.38 L-197.24,12.08 L-197.96,11.79 L-198.64,11.52 L-199.29,11.26 L-199.90,11.02 L-200.48,10.78 L-201.03,10.57 L-201.54,10.36 L-202.01,10.17 L-202.45,10.00 L-202.86,9.83 L-203.23,9.68 L-203.57,9.55 L-203.87,9.43 L-204.13,9.32 L-204.36,9.23 L-204.56,9.15 L-204.72,9.09 L-204.84,9.04 L-204.93,9.01 L-204.98,8.98 L-205.00,8.98 Z"/><circle cx="-200" cy="0" r="30"/><circle cx="200" cy="0" r="30"/>
 </g>
 <g stroke="url(#eg)" stroke-width="2.4" fill="url(#eg)">
  <path d="M-205.00,-8.98 L-204.98,-8.98 L-204.93,-9.01 L-204.84,-9.04 L-204.72,-9.09 L-204.56,-9.15 L-204.36,-9.23 L-204.13,-9.32 L-203.87,-9.43 L-203.57,-9.55 L-203.23,-9.68 L-202.86,-9.83 L-202.45,-10.00 L-202.01,-10.17 L-201.54,-10.36 L-201.03,-10.57 L-200.48,-10.78 L-199.90,-11.02 L-199.29,-11.26 L-198.64,-11.52 L-197.96,-11.79 L-197.24,-12.08 L-196.49,-12.38 L-195.70,-12.70 L-194.88,-13.02 L-194.03,-13.37 L-193.14,-13.72 L-192.22,-14.09 L-191.27,-14.47 L-190.29,-14.86 L-189.27,-15.27 L-188.21,-15.69 L-187.13,-16.12 L-186.01,-16.57 L-184.87,-17.03 L-183.68,-17.51 L-182.47,-18.01 L-181.23,-18.52 L-179.95,-19.07 L-178.65,-19.63 L-177.31,-20.22 L-175.94,-20.83 L-174.54,-21.46 L-173.12,-22.12 L-171.66,-22.80 L-170.17,-23.51 L-168.65,-24.25 L-167.11,-25.02 L-165.53,-25.81 L-163.93,-26.63 L-162.30,-27.48 L-160.63,-28.36 L-158.95,-29.26 L-157.23,-30.21 L-155.49,-31.18 L-153.72,-32.18 L-151.92,-33.22 L-150.10,-34.29 L-148.25,-35.39 L-146.38,-36.53 L-144.48,-37.70 L-142.56,-38.89 L-140.61,-40.10 L-138.63,-41.32 L-136.64,-42.56 L-134.62,-43.81 L-132.57,-45.08 L-130.51,-46.36 L-128.42,-47.66 L-126.30,-48.97 L-124.17,-50.29 L-122.02,-51.63 L-119.84,-52.98 L-117.64,-54.34 L-115.43,-55.71 L-113.19,-57.10 L-110.93,-58.50 L-108.66,-59.91 L-106.36,-61.33 L-104.05,-62.76 L-101.72,-64.21 L-99.37,-65.67 L-97.01,-67.13 L-94.63,-68.61 L-92.23,-70.08 L-89.81,-71.51 L-87.38,-72.89 L-84.94,-74.24 L-82.48,-75.54 L-80.00,-76.80 L-77.52,-78.02 L-75.01,-79.20 L-72.50,-80.34 L-69.97,-81.44 L-67.43,-82.50 L-64.88,-83.51 L-62.32,-84.49 L-59.75,-85.42 L-57.17,-86.31 L-54.57,-87.17 L-51.97,-87.98 L-49.36,-88.75 L-46.74,-89.48 L-44.11,-90.17 L-41.48,-90.82 L-38.84,-91.43 L-36.19,-92.00 L-33.53,-92.53 L-30.87,-93.01 L-28.20,-93.46 L-25.53,-93.87 L-22.86,-94.23 L-20.18,-94.56 L-17.49,-94.84 L-14.81,-95.09 L-12.12,-95.29 L-9.43,-95.45 L-6.74,-95.57 L-4.04,-95.65 L-1.35,-95.69 L1.35,-95.69 L4.04,-95.65 L6.74,-95.57 L9.43,-95.45 L12.12,-95.29 L14.81,-95.09 L17.49,-94.84 L20.18,-94.56 L22.86,-94.23 L25.53,-93.87 L28.20,-93.46 L30.87,-93.01 L33.53,-92.53 L36.19,-92.00 L38.84,-91.43 L41.48,-90.82 L44.11,-90.17 L46.74,-89.48 L49.36,-88.75 L51.97,-87.98 L54.57,-87.17 L57.17,-86.31 L59.75,-85.42 L62.32,-84.49 L64.88,-83.51 L67.43,-82.50 L69.97,-81.44 L72.50,-80.34 L75.01,-79.20 L77.52,-78.02 L80.00,-76.80 L82.48,-75.54 L84.94,-74.24 L87.38,-72.89 L89.81,-71.51 L92.23,-70.08 L94.63,-68.61 L97.01,-67.13 L99.37,-65.67 L101.72,-64.21 L104.05,-62.76 L106.36,-61.33 L108.66,-59.91 L110.93,-58.50 L113.19,-57.10 L115.43,-55.71 L117.64,-54.34 L119.84,-52.98 L122.02,-51.63 L124.17,-50.29 L126.30,-48.97 L128.42,-47.66 L130.51,-46.36 L132.57,-45.08 L134.62,-43.81 L136.64,-42.56 L138.63,-41.32 L140.61,-40.10 L142.56,-38.89 L144.48,-37.70 L146.38,-36.53 L148.25,-35.39 L150.10,-34.29 L151.92,-33.22 L153.72,-32.18 L155.49,-31.18 L157.23,-30.21 L158.95,-29.26 L160.63,-28.36 L162.30,-27.48 L163.93,-26.63 L165.53,-25.81 L167.11,-25.02 L168.65,-24.25 L170.17,-23.51 L171.66,-22.80 L173.12,-22.12 L174.54,-21.46 L175.94,-20.83 L177.31,-20.22 L178.65,-19.63 L179.95,-19.07 L181.23,-18.52 L182.47,-18.01 L183.68,-17.51 L184.87,-17.03 L186.01,-16.57 L187.13,-16.12 L188.21,-15.69 L189.27,-15.27 L190.29,-14.86 L191.27,-14.47 L192.22,-14.09 L193.14,-13.72 L194.03,-13.37 L194.88,-13.02 L195.70,-12.70 L196.49,-12.38 L197.24,-12.08 L197.96,-11.79 L198.64,-11.52 L199.29,-11.26 L199.90,-11.02 L200.48,-10.78 L201.03,-10.57 L201.54,-10.36 L202.01,-10.17 L202.45,-10.00 L202.86,-9.83 L203.23,-9.68 L203.57,-9.55 L203.87,-9.43 L204.13,-9.32 L204.36,-9.23 L204.56,-9.15 L204.72,-9.09 L204.84,-9.04 L204.93,-9.01 L204.98,-8.98 L205.00,-8.98 L205.00,8.98 L204.98,8.98 L204.93,9.01 L204.84,9.04 L204.72,9.09 L204.56,9.15 L204.36,9.23 L204.13,9.32 L203.87,9.43 L203.57,9.55 L203.23,9.68 L202.86,9.83 L202.45,10.00 L202.01,10.17 L201.54,10.36 L201.03,10.57 L200.48,10.78 L199.90,11.02 L199.29,11.26 L198.64,11.52 L197.96,11.79 L197.24,12.08 L196.49,12.38 L195.70,12.70 L194.88,13.02 L194.03,13.37 L193.14,13.72 L192.22,14.09 L191.27,14.47 L190.29,14.86 L189.27,15.27 L188.21,15.69 L187.13,16.12 L186.01,16.57 L184.87,17.03 L183.68,17.51 L182.47,18.01 L181.23,18.52 L179.95,19.07 L178.65,19.63 L177.31,20.22 L175.94,20.83 L174.54,21.46 L173.12,22.12 L171.66,22.80 L170.17,23.51 L168.65,24.25 L167.11,25.02 L165.53,25.81 L163.93,26.63 L162.30,27.48 L160.63,28.36 L158.95,29.26 L157.23,30.21 L155.49,31.18 L153.72,32.18 L151.92,33.22 L150.10,34.29 L148.25,35.39 L146.38,36.53 L144.48,37.70 L142.56,38.89 L140.61,40.10 L138.63,41.32 L136.64,42.56 L134.62,43.81 L132.57,45.08 L130.51,46.36 L128.42,47.66 L126.30,48.97 L124.17,50.29 L122.02,51.63 L119.84,52.98 L117.64,54.34 L115.43,55.71 L113.19,57.10 L110.93,58.50 L108.66,59.91 L106.36,61.33 L104.05,62.76 L101.72,64.21 L99.37,65.67 L97.01,67.13 L94.63,68.61 L92.23,70.08 L89.81,71.51 L87.38,72.89 L84.94,74.24 L82.48,75.54 L80.00,76.80 L77.52,78.02 L75.01,79.20 L72.50,80.34 L69.97,81.44 L67.43,82.50 L64.88,83.51 L62.32,84.49 L59.75,85.42 L57.17,86.31 L54.57,87.17 L51.97,87.98 L49.36,88.75 L46.74,89.48 L44.11,90.17 L41.48,90.82 L38.84,91.43 L36.19,92.00 L33.53,92.53 L30.87,93.01 L28.20,93.46 L25.53,93.87 L22.86,94.23 L20.18,94.56 L17.49,94.84 L14.81,95.09 L12.12,95.29 L9.43,95.45 L6.74,95.57 L4.04,95.65 L1.35,95.69 L-1.35,95.69 L-4.04,95.65 L-6.74,95.57 L-9.43,95.45 L-12.12,95.29 L-14.81,95.09 L-17.49,94.84 L-20.18,94.56 L-22.86,94.23 L-25.53,93.87 L-28.20,93.46 L-30.87,93.01 L-33.53,92.53 L-36.19,92.00 L-38.84,91.43 L-41.48,90.82 L-44.11,90.17 L-46.74,89.48 L-49.36,88.75 L-51.97,87.98 L-54.57,87.17 L-57.17,86.31 L-59.75,85.42 L-62.32,84.49 L-64.88,83.51 L-67.43,82.50 L-69.97,81.44 L-72.50,80.34 L-75.01,79.20 L-77.52,78.02 L-80.00,76.80 L-82.48,75.54 L-84.94,74.24 L-87.38,72.89 L-89.81,71.51 L-92.23,70.08 L-94.63,68.61 L-97.01,67.13 L-99.37,65.67 L-101.72,64.21 L-104.05,62.76 L-106.36,61.33 L-108.66,59.91 L-110.93,58.50 L-113.19,57.10 L-115.43,55.71 L-117.64,54.34 L-119.84,52.98 L-122.02,51.63 L-124.17,50.29 L-126.30,48.97 L-128.42,47.66 L-130.51,46.36 L-132.57,45.08 L-134.62,43.81 L-136.64,42.56 L-138.63,41.32 L-140.61,40.10 L-142.56,38.89 L-144.48,37.70 L-146.38,36.53 L-148.25,35.39 L-150.10,34.29 L-151.92,33.22 L-153.72,32.18 L-155.49,31.18 L-157.23,30.21 L-158.95,29.26 L-160.63,28.36 L-162.30,27.48 L-163.93,26.63 L-165.53,25.81 L-167.11,25.02 L-168.65,24.25 L-170.17,23.51 L-171.66,22.80 L-173.12,22.12 L-174.54,21.46 L-175.94,20.83 L-177.31,20.22 L-178.65,19.63 L-179.95,19.07 L-181.23,18.52 L-182.47,18.01 L-183.68,17.51 L-184.87,17.03 L-186.01,16.57 L-187.13,16.12 L-188.21,15.69 L-189.27,15.27 L-190.29,14.86 L-191.27,14.47 L-192.22,14.09 L-193.14,13.72 L-194.03,13.37 L-194.88,13.02 L-195.70,12.70 L-196.49,12.38 L-197.24,12.08 L-197.96,11.79 L-198.64,11.52 L-199.29,11.26 L-199.90,11.02 L-200.48,10.78 L-201.03,10.57 L-201.54,10.36 L-202.01,10.17 L-202.45,10.00 L-202.86,9.83 L-203.23,9.68 L-203.57,9.55 L-203.87,9.43 L-204.13,9.32 L-204.36,9.23 L-204.56,9.15 L-204.72,9.09 L-204.84,9.04 L-204.93,9.01 L-204.98,8.98 L-205.00,8.98 Z"/><circle cx="-200" cy="0" r="30"/><circle cx="200" cy="0" r="30"/>
 </g>
 <g fill="#fbc1a1">
  <path d="M-205.00,-8.98 L-204.98,-8.98 L-204.93,-9.01 L-204.84,-9.04 L-204.72,-9.09 L-204.56,-9.15 L-204.36,-9.23 L-204.13,-9.32 L-203.87,-9.43 L-203.57,-9.55 L-203.23,-9.68 L-202.86,-9.83 L-202.45,-10.00 L-202.01,-10.17 L-201.54,-10.36 L-201.03,-10.57 L-200.48,-10.78 L-199.90,-11.02 L-199.29,-11.26 L-198.64,-11.52 L-197.96,-11.79 L-197.24,-12.08 L-196.49,-12.38 L-195.70,-12.70 L-194.88,-13.02 L-194.03,-13.37 L-193.14,-13.72 L-192.22,-14.09 L-191.27,-14.47 L-190.29,-14.86 L-189.27,-15.27 L-188.21,-15.69 L-187.13,-16.12 L-186.01,-16.57 L-184.87,-17.03 L-183.68,-17.51 L-182.47,-18.01 L-181.23,-18.52 L-179.95,-19.07 L-178.65,-19.63 L-177.31,-20.22 L-175.94,-20.83 L-174.54,-21.46 L-173.12,-22.12 L-171.66,-22.80 L-170.17,-23.51 L-168.65,-24.25 L-167.11,-25.02 L-165.53,-25.81 L-163.93,-26.63 L-162.30,-27.48 L-160.63,-28.36 L-158.95,-29.26 L-157.23,-30.21 L-155.49,-31.18 L-153.72,-32.18 L-151.92,-33.22 L-150.10,-34.29 L-148.25,-35.39 L-146.38,-36.53 L-144.48,-37.70 L-142.56,-38.89 L-140.61,-40.10 L-138.63,-41.32 L-136.64,-42.56 L-134.62,-43.81 L-132.57,-45.08 L-130.51,-46.36 L-128.42,-47.66 L-126.30,-48.97 L-124.17,-50.29 L-122.02,-51.63 L-119.84,-52.98 L-117.64,-54.34 L-115.43,-55.71 L-113.19,-57.10 L-110.93,-58.50 L-108.66,-59.91 L-106.36,-61.33 L-104.05,-62.76 L-101.72,-64.21 L-99.37,-65.67 L-97.01,-67.13 L-94.63,-68.61 L-92.23,-70.08 L-89.81,-71.51 L-87.38,-72.89 L-84.94,-74.24 L-82.48,-75.54 L-80.00,-76.80 L-77.52,-78.02 L-75.01,-79.20 L-72.50,-80.34 L-69.97,-81.44 L-67.43,-82.50 L-64.88,-83.51 L-62.32,-84.49 L-59.75,-85.42 L-57.17,-86.31 L-54.57,-87.17 L-51.97,-87.98 L-49.36,-88.75 L-46.74,-89.48 L-44.11,-90.17 L-41.48,-90.82 L-38.84,-91.43 L-36.19,-92.00 L-33.53,-92.53 L-30.87,-93.01 L-28.20,-93.46 L-25.53,-93.87 L-22.86,-94.23 L-20.18,-94.56 L-17.49,-94.84 L-14.81,-95.09 L-12.12,-95.29 L-9.43,-95.45 L-6.74,-95.57 L-4.04,-95.65 L-1.35,-95.69 L1.35,-95.69 L4.04,-95.65 L6.74,-95.57 L9.43,-95.45 L12.12,-95.29 L14.81,-95.09 L17.49,-94.84 L20.18,-94.56 L22.86,-94.23 L25.53,-93.87 L28.20,-93.46 L30.87,-93.01 L33.53,-92.53 L36.19,-92.00 L38.84,-91.43 L41.48,-90.82 L44.11,-90.17 L46.74,-89.48 L49.36,-88.75 L51.97,-87.98 L54.57,-87.17 L57.17,-86.31 L59.75,-85.42 L62.32,-84.49 L64.88,-83.51 L67.43,-82.50 L69.97,-81.44 L72.50,-80.34 L75.01,-79.20 L77.52,-78.02 L80.00,-76.80 L82.48,-75.54 L84.94,-74.24 L87.38,-72.89 L89.81,-71.51 L92.23,-70.08 L94.63,-68.61 L97.01,-67.13 L99.37,-65.67 L101.72,-64.21 L104.05,-62.76 L106.36,-61.33 L108.66,-59.91 L110.93,-58.50 L113.19,-57.10 L115.43,-55.71 L117.64,-54.34 L119.84,-52.98 L122.02,-51.63 L124.17,-50.29 L126.30,-48.97 L128.42,-47.66 L130.51,-46.36 L132.57,-45.08 L134.62,-43.81 L136.64,-42.56 L138.63,-41.32 L140.61,-40.10 L142.56,-38.89 L144.48,-37.70 L146.38,-36.53 L148.25,-35.39 L150.10,-34.29 L151.92,-33.22 L153.72,-32.18 L155.49,-31.18 L157.23,-30.21 L158.95,-29.26 L160.63,-28.36 L162.30,-27.48 L163.93,-26.63 L165.53,-25.81 L167.11,-25.02 L168.65,-24.25 L170.17,-23.51 L171.66,-22.80 L173.12,-22.12 L174.54,-21.46 L175.94,-20.83 L177.31,-20.22 L178.65,-19.63 L179.95,-19.07 L181.23,-18.52 L182.47,-18.01 L183.68,-17.51 L184.87,-17.03 L186.01,-16.57 L187.13,-16.12 L188.21,-15.69 L189.27,-15.27 L190.29,-14.86 L191.27,-14.47 L192.22,-14.09 L193.14,-13.72 L194.03,-13.37 L194.88,-13.02 L195.70,-12.70 L196.49,-12.38 L197.24,-12.08 L197.96,-11.79 L198.64,-11.52 L199.29,-11.26 L199.90,-11.02 L200.48,-10.78 L201.03,-10.57 L201.54,-10.36 L202.01,-10.17 L202.45,-10.00 L202.86,-9.83 L203.23,-9.68 L203.57,-9.55 L203.87,-9.43 L204.13,-9.32 L204.36,-9.23 L204.56,-9.15 L204.72,-9.09 L204.84,-9.04 L204.93,-9.01 L204.98,-8.98 L205.00,-8.98 L205.00,8.98 L204.98,8.98 L204.93,9.01 L204.84,9.04 L204.72,9.09 L204.56,9.15 L204.36,9.23 L204.13,9.32 L203.87,9.43 L203.57,9.55 L203.23,9.68 L202.86,9.83 L202.45,10.00 L202.01,10.17 L201.54,10.36 L201.03,10.57 L200.48,10.78 L199.90,11.02 L199.29,11.26 L198.64,11.52 L197.96,11.79 L197.24,12.08 L196.49,12.38 L195.70,12.70 L194.88,13.02 L194.03,13.37 L193.14,13.72 L192.22,14.09 L191.27,14.47 L190.29,14.86 L189.27,15.27 L188.21,15.69 L187.13,16.12 L186.01,16.57 L184.87,17.03 L183.68,17.51 L182.47,18.01 L181.23,18.52 L179.95,19.07 L178.65,19.63 L177.31,20.22 L175.94,20.83 L174.54,21.46 L173.12,22.12 L171.66,22.80 L170.17,23.51 L168.65,24.25 L167.11,25.02 L165.53,25.81 L163.93,26.63 L162.30,27.48 L160.63,28.36 L158.95,29.26 L157.23,30.21 L155.49,31.18 L153.72,32.18 L151.92,33.22 L150.10,34.29 L148.25,35.39 L146.38,36.53 L144.48,37.70 L142.56,38.89 L140.61,40.10 L138.63,41.32 L136.64,42.56 L134.62,43.81 L132.57,45.08 L130.51,46.36 L128.42,47.66 L126.30,48.97 L124.17,50.29 L122.02,51.63 L119.84,52.98 L117.64,54.34 L115.43,55.71 L113.19,57.10 L110.93,58.50 L108.66,59.91 L106.36,61.33 L104.05,62.76 L101.72,64.21 L99.37,65.67 L97.01,67.13 L94.63,68.61 L92.23,70.08 L89.81,71.51 L87.38,72.89 L84.94,74.24 L82.48,75.54 L80.00,76.80 L77.52,78.02 L75.01,79.20 L72.50,80.34 L69.97,81.44 L67.43,82.50 L64.88,83.51 L62.32,84.49 L59.75,85.42 L57.17,86.31 L54.57,87.17 L51.97,87.98 L49.36,88.75 L46.74,89.48 L44.11,90.17 L41.48,90.82 L38.84,91.43 L36.19,92.00 L33.53,92.53 L30.87,93.01 L28.20,93.46 L25.53,93.87 L22.86,94.23 L20.18,94.56 L17.49,94.84 L14.81,95.09 L12.12,95.29 L9.43,95.45 L6.74,95.57 L4.04,95.65 L1.35,95.69 L-1.35,95.69 L-4.04,95.65 L-6.74,95.57 L-9.43,95.45 L-12.12,95.29 L-14.81,95.09 L-17.49,94.84 L-20.18,94.56 L-22.86,94.23 L-25.53,93.87 L-28.20,93.46 L-30.87,93.01 L-33.53,92.53 L-36.19,92.00 L-38.84,91.43 L-41.48,90.82 L-44.11,90.17 L-46.74,89.48 L-49.36,88.75 L-51.97,87.98 L-54.57,87.17 L-57.17,86.31 L-59.75,85.42 L-62.32,84.49 L-64.88,83.51 L-67.43,82.50 L-69.97,81.44 L-72.50,80.34 L-75.01,79.20 L-77.52,78.02 L-80.00,76.80 L-82.48,75.54 L-84.94,74.24 L-87.38,72.89 L-89.81,71.51 L-92.23,70.08 L-94.63,68.61 L-97.01,67.13 L-99.37,65.67 L-101.72,64.21 L-104.05,62.76 L-106.36,61.33 L-108.66,59.91 L-110.93,58.50 L-113.19,57.10 L-115.43,55.71 L-117.64,54.34 L-119.84,52.98 L-122.02,51.63 L-124.17,50.29 L-126.30,48.97 L-128.42,47.66 L-130.51,46.36 L-132.57,45.08 L-134.62,43.81 L-136.64,42.56 L-138.63,41.32 L-140.61,40.10 L-142.56,38.89 L-144.48,37.70 L-146.38,36.53 L-148.25,35.39 L-150.10,34.29 L-151.92,33.22 L-153.72,32.18 L-155.49,31.18 L-157.23,30.21 L-158.95,29.26 L-160.63,28.36 L-162.30,27.48 L-163.93,26.63 L-165.53,25.81 L-167.11,25.02 L-168.65,24.25 L-170.17,23.51 L-171.66,22.80 L-173.12,22.12 L-174.54,21.46 L-175.94,20.83 L-177.31,20.22 L-178.65,19.63 L-179.95,19.07 L-181.23,18.52 L-182.47,18.01 L-183.68,17.51 L-184.87,17.03 L-186.01,16.57 L-187.13,16.12 L-188.21,15.69 L-189.27,15.27 L-190.29,14.86 L-191.27,14.47 L-192.22,14.09 L-193.14,13.72 L-194.03,13.37 L-194.88,13.02 L-195.70,12.70 L-196.49,12.38 L-197.24,12.08 L-197.96,11.79 L-198.64,11.52 L-199.29,11.26 L-199.90,11.02 L-200.48,10.78 L-201.03,10.57 L-201.54,10.36 L-202.01,10.17 L-202.45,10.00 L-202.86,9.83 L-203.23,9.68 L-203.57,9.55 L-203.87,9.43 L-204.13,9.32 L-204.36,9.23 L-204.56,9.15 L-204.72,9.09 L-204.84,9.04 L-204.93,9.01 L-204.98,8.98 L-205.00,8.98 Z"/><circle cx="-200" cy="0" r="30"/><circle cx="200" cy="0" r="30"/>
 </g>
 <circle cx="-200" cy="0" r="17" fill="#fdfdfd" stroke="#a8674a" stroke-width="1.6"/>
 <circle cx="200" cy="0" r="17" fill="#fdfdfd" stroke="#a8674a" stroke-width="1.6"/>
 <path d="M-156.30,6.55 Q-162.30,0 -156.30,-6.55 L-156.30,-6.55 L-154.33,-8.63 L-152.37,-10.68 L-150.40,-12.70 L-148.44,-14.69 L-146.47,-16.64 L-144.50,-18.57 L-142.54,-20.46 L-140.57,-22.32 L-138.61,-24.16 L-136.64,-25.96 L-134.67,-27.73 L-132.71,-29.46 L-130.74,-31.17 L-128.78,-32.85 L-126.81,-34.50 L-124.84,-36.12 L-122.88,-37.70 L-120.91,-39.26 L-118.95,-40.79 L-116.98,-42.28 L-115.01,-43.75 L-113.05,-45.18 L-111.08,-46.59 L-109.12,-47.97 L-107.15,-49.32 L-105.18,-50.64 L-103.22,-51.93 L-101.25,-53.19 L-99.28,-54.42 L-97.32,-55.62 L-95.35,-56.79 L-93.39,-57.94 L-91.42,-59.06 L-89.45,-60.14 L-87.49,-61.20 L-85.52,-62.23 L-83.56,-63.24 L-81.59,-64.21 L-79.62,-65.16 L-77.66,-66.08 L-75.69,-66.97 L-73.73,-67.84 L-71.76,-68.68 L-69.79,-69.49 L-67.83,-70.27 L-65.86,-71.03 L-63.90,-71.76 L-61.93,-72.46 L-59.96,-73.14 L-58.00,-73.79 L-56.03,-74.42 L-54.07,-75.02 L-52.10,-75.59 L-50.13,-76.14 L-48.17,-76.66 L-46.20,-77.16 L-44.24,-77.63 L-42.27,-78.08 L-40.30,-78.51 L-38.34,-78.91 L-36.37,-79.28 L-34.41,-79.64 L-32.44,-79.97 L-30.47,-80.27 L-28.51,-80.56 L-26.54,-80.82 L-24.58,-81.06 L-22.61,-81.27 L-20.64,-81.47 L-18.68,-81.64 L-16.71,-81.80 L-14.75,-81.93 L-12.78,-82.04 L-10.81,-82.14 L-8.85,-82.21 L-6.88,-82.27 L-4.92,-82.31 L-2.95,-82.34 L-0.98,-82.35 L0.98,-82.35 L2.95,-82.34 L4.92,-82.31 L6.88,-82.27 L8.85,-82.21 L10.81,-82.14 L12.78,-82.04 L14.75,-81.93 L16.71,-81.80 L18.68,-81.64 L20.64,-81.47 L22.61,-81.27 L24.58,-81.06 L26.54,-80.82 L28.51,-80.56 L30.47,-80.27 L32.44,-79.97 L34.41,-79.64 L36.37,-79.28 L38.34,-78.91 L40.30,-78.51 L42.27,-78.08 L44.24,-77.63 L46.20,-77.16 L48.17,-76.66 L50.13,-76.14 L52.10,-75.59 L54.07,-75.02 L56.03,-74.42 L58.00,-73.79 L59.96,-73.14 L61.93,-72.46 L63.90,-71.76 L65.86,-71.03 L67.83,-70.27 L69.79,-69.49 L71.76,-68.68 L73.73,-67.84 L75.69,-66.97 L77.66,-66.08 L79.62,-65.16 L81.59,-64.21 L83.56,-63.24 L85.52,-62.23 L87.49,-61.20 L89.45,-60.14 L91.42,-59.06 L93.39,-57.94 L95.35,-56.79 L97.32,-55.62 L99.28,-54.42 L101.25,-53.19 L103.22,-51.93 L105.18,-50.64 L107.15,-49.32 L109.12,-47.97 L111.08,-46.59 L113.05,-45.18 L115.01,-43.75 L116.98,-42.28 L118.95,-40.79 L120.91,-39.26 L122.88,-37.70 L124.84,-36.12 L126.81,-34.50 L128.78,-32.85 L130.74,-31.17 L132.71,-29.46 L134.67,-27.73 L136.64,-25.96 L138.61,-24.16 L140.57,-22.32 L142.54,-20.46 L144.50,-18.57 L146.47,-16.64 L148.44,-14.69 L150.40,-12.70 L152.37,-10.68 L154.33,-8.63 L156.30,-6.55 Q162.30,0 156.30,6.55 L156.30,6.55 L154.33,8.63 L152.37,10.68 L150.40,12.70 L148.44,14.69 L146.47,16.64 L144.50,18.57 L142.54,20.46 L140.57,22.32 L138.61,24.16 L136.64,25.96 L134.67,27.73 L132.71,29.46 L130.74,31.17 L128.78,32.85 L126.81,34.50 L124.84,36.12 L122.88,37.70 L120.91,39.26 L118.95,40.79 L116.98,42.28 L115.01,43.75 L113.05,45.18 L111.08,46.59 L109.12,47.97 L107.15,49.32 L105.18,50.64 L103.22,51.93 L101.25,53.19 L99.28,54.42 L97.32,55.62 L95.35,56.79 L93.39,57.94 L91.42,59.06 L89.45,60.14 L87.49,61.20 L85.52,62.23 L83.56,63.24 L81.59,64.21 L79.62,65.16 L77.66,66.08 L75.69,66.97 L73.73,67.84 L71.76,68.68 L69.79,69.49 L67.83,70.27 L65.86,71.03 L63.90,71.76 L61.93,72.46 L59.96,73.14 L58.00,73.79 L56.03,74.42 L54.07,75.02 L52.10,75.59 L50.13,76.14 L48.17,76.66 L46.20,77.16 L44.24,77.63 L42.27,78.08 L40.30,78.51 L38.34,78.91 L36.37,79.28 L34.41,79.64 L32.44,79.97 L30.47,80.27 L28.51,80.56 L26.54,80.82 L24.58,81.06 L22.61,81.27 L20.64,81.47 L18.68,81.64 L16.71,81.80 L14.75,81.93 L12.78,82.04 L10.81,82.14 L8.85,82.21 L6.88,82.27 L4.92,82.31 L2.95,82.34 L0.98,82.35 L-0.98,82.35 L-2.95,82.34 L-4.92,82.31 L-6.88,82.27 L-8.85,82.21 L-10.81,82.14 L-12.78,82.04 L-14.75,81.93 L-16.71,81.80 L-18.68,81.64 L-20.64,81.47 L-22.61,81.27 L-24.58,81.06 L-26.54,80.82 L-28.51,80.56 L-30.47,80.27 L-32.44,79.97 L-34.41,79.64 L-36.37,79.28 L-38.34,78.91 L-40.30,78.51 L-42.27,78.08 L-44.24,77.63 L-46.20,77.16 L-48.17,76.66 L-50.13,76.14 L-52.10,75.59 L-54.07,75.02 L-56.03,74.42 L-58.00,73.79 L-59.96,73.14 L-61.93,72.46 L-63.90,71.76 L-65.86,71.03 L-67.83,70.27 L-69.79,69.49 L-71.76,68.68 L-73.73,67.84 L-75.69,66.97 L-77.66,66.08 L-79.62,65.16 L-81.59,64.21 L-83.56,63.24 L-85.52,62.23 L-87.49,61.20 L-89.45,60.14 L-91.42,59.06 L-93.39,57.94 L-95.35,56.79 L-97.32,55.62 L-99.28,54.42 L-101.25,53.19 L-103.22,51.93 L-105.18,50.64 L-107.15,49.32 L-109.12,47.97 L-111.08,46.59 L-113.05,45.18 L-115.01,43.75 L-116.98,42.28 L-118.95,40.79 L-120.91,39.26 L-122.88,37.70 L-124.84,36.12 L-126.81,34.50 L-128.78,32.85 L-130.74,31.17 L-132.71,29.46 L-134.67,27.73 L-136.64,25.96 L-138.61,24.16 L-140.57,22.32 L-142.54,20.46 L-144.50,18.57 L-146.47,16.64 L-148.44,14.69 L-150.40,12.70 L-152.37,10.68 L-154.33,8.63 L-156.30,6.55 Z" fill="#71c6c3" stroke="#c98a6c" stroke-width="1.6"/>
 <ellipse rx="69.6" ry="68.6" fill="#fdcaac" stroke="#c98a6c" stroke-width="1.6"/>
 <ellipse rx="54.6" ry="54.2" fill="#e6e7eb" stroke="#bf9480" stroke-width="1.2"/>
 <circle r="29.5" fill="#fdcaac" stroke="#bf9480" stroke-width="1.2"/>
 <circle r="16.799999999999997" fill="#131011" stroke="#3c1c12" stroke-width="1.4"/>
</g>
<g fill="none" stroke="#030303" stroke-width="9" stroke-linecap="round">
 <path d="M1099.75,381.5 C995.25,219.98 772.01,259.42 722,298"/>
 <path d="M116.5,619 C248.96,804.87 460.97,722.71 497.5,704.5"/>
</g>
<g fill="#030303">
 <polygon points="705.5,273 682,318.5 733.5,324"/>
 <polygon points="482.8,676.8 534.6,684 510.5,728.3"/>
</g>
<g font-family="Liberation Serif" font-size="90" fill="#0c0c0c" stroke="#fdfdfd" stroke-width="0.9">
<text transform="translate(176.89,932) scale(0.9256,1)">T</text>
<text transform="translate(226.90,932) scale(1.1691,1)">W</text>
<text transform="translate(324.35,932) scale(0.9894,1)">O</text>
<text transform="translate(429.96,932) scale(0.9362,1)">S</text>
<text transform="translate(481.10,932) scale(0.8915,1)">I</text>
<text transform="translate(510.57,932) scale(0.9354,1)">D</text>
<text transform="translate(575.30,932) scale(0.8852,1)">E</text>
<text transform="translate(625.57,932) scale(0.9354,1)">D</text>
<text transform="translate(709.55,932) scale(0.9344,1)">C</text>
<text transform="translate(767.97,932) scale(0.9755,1)">H</text>
<text transform="translate(829.18,932) scale(0.9376,1)">A</text>
<text transform="translate(895.38,932) scale(0.8952,1)">R</text>
<text transform="translate(948.48,932) scale(0.9720,1)">M</text>
<rect x="396.6" y="907.6" width="28.8" height="5.4"/>
</g>
</svg>
</body></html>
